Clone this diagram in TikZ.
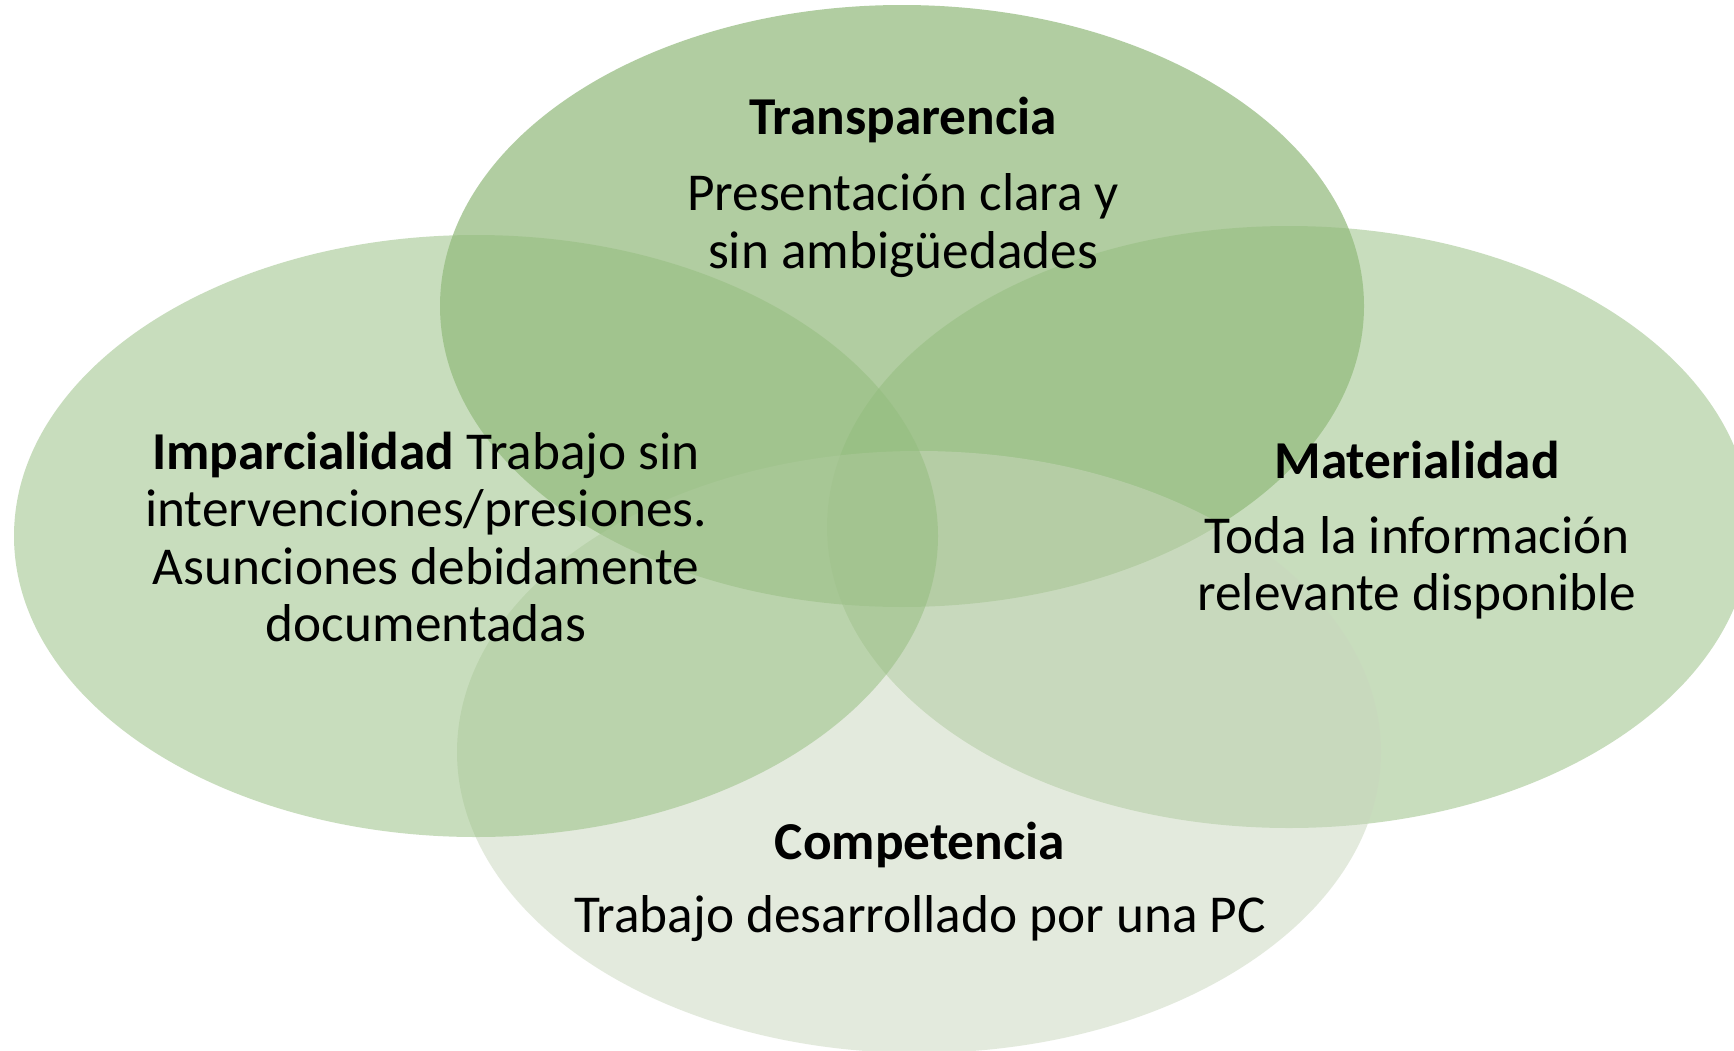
\documentclass[tikz,border=0pt]{standalone}
\usepackage{fontspec}
\setmainfont{Carlito}
\usetikzlibrary{shapes.geometric}
\definecolor{ctop}{RGB}{101,157,69}
\definecolor{cside}{RGB}{147,189,125}
\definecolor{cbot}{RGB}{201,215,189}
\tikzset{
  venn/.style={ellipse, draw=none, inner sep=0pt, outer sep=0pt,
    minimum width=924pt, minimum height=602pt, fill opacity=0.5},
  lbl/.style={anchor=base, inner sep=0pt, text=black,
    font=\fontsize{53.3pt}{58pt}\selectfont}
}
\begin{document}
\begin{tikzpicture}[x=1pt,y=-1pt]
\useasboundingbox (0,0) rectangle (1734,1050);
\fill[white] (0,0) rectangle (1734,1050);
% ellipses, drawn in order: top, right, bottom, left
\node[venn, fill=ctop]  (etop)   at (902,306) {};
\node[venn, fill=cside] (eright) at (1289,527) {};
\node[venn, fill=cbot]  (ebot)   at (919,752) {};
\node[venn, fill=cside] (eleft)  at (476,536) {};
% Transparencia
\node[lbl] (t1) at (903,134) {\textbf{Transparencia}};
\node[lbl] (t2) at (903,210) {Presentación clara y};
\node[lbl] (t3) at (903,268) {sin ambigüedades};
% Materialidad
\node[lbl] (m1) at (1417,478) {\textbf{Materialidad}};
\node[lbl] (m2) at (1417,553) {Toda la información};
\node[lbl] (m3) at (1417,610) {relevante disponible};
% Competencia
\node[lbl] (c1) at (920,859) {\textbf{Competencia}};
\node[lbl] (c2) at (920,932) {Trabajo desarrollado por una PC};
% Imparcialidad
\node[lbl] (i1) at (426,469) {\textbf{Imparcialidad} Trabajo sin};
\node[lbl] (i2) at (426,526) {intervenciones/presiones.};
\node[lbl] (i3) at (426,584) {Asunciones debidamente};
\node[lbl] (i4) at (426,641) {documentadas};
\end{tikzpicture}
\end{document}
